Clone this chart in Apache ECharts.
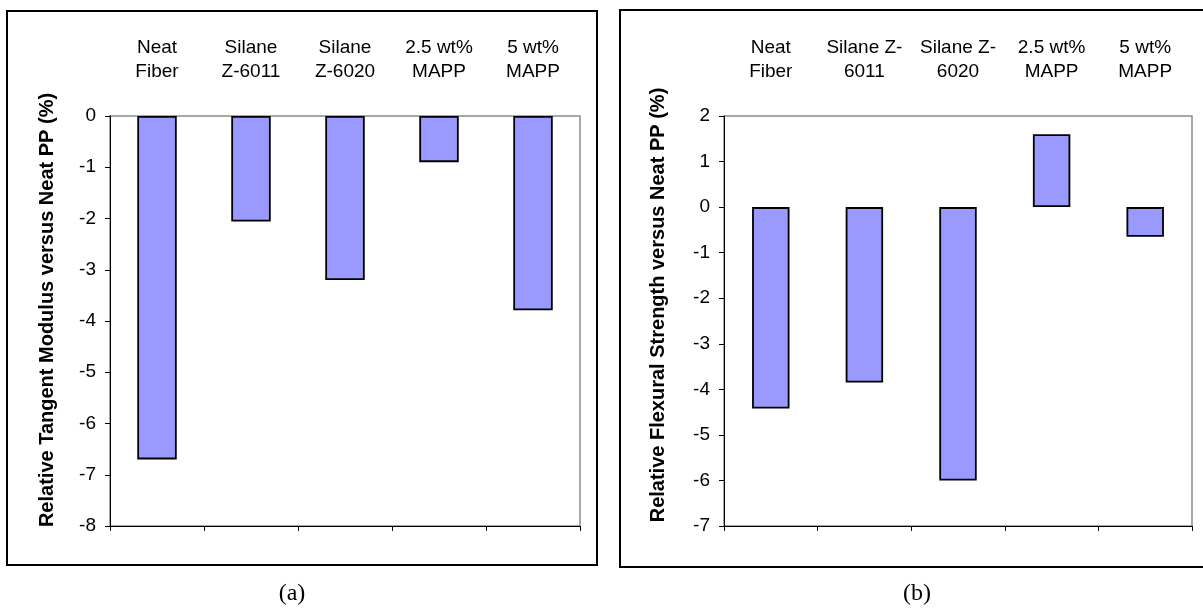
<!DOCTYPE html>
<html>
<head>
<meta charset="utf-8">
<script src="https://cdn.jsdelivr.net/npm/echarts@6/dist/echarts.min.js"></script>
<style>
html,body{margin:0;padding:0;background:#fff;}
#c{width:1203px;height:612px;}
</style>
</head>
<body>
<div id="c"></div>
<script>
// ---- data ----
const categoriesA = ['Neat\nFiber', 'Silane\nZ-6011', 'Silane\nZ-6020', '2.5 wt%\nMAPP', '5 wt%\nMAPP'];
const categoriesB = ['Neat\nFiber', 'Silane Z-\n6011', 'Silane Z-\n6020', '2.5 wt%\nMAPP', '5 wt%\nMAPP'];
const modulusValues = [-6.7, -2.06, -3.2, -0.9, -3.79];
const strengthValues = [-4.42, -3.85, -6.0, 1.6, -0.65];
const titleA = 'Relative Tangent Modulus versus Neat PP (%)';
const titleB = 'Relative Flexural Strength versus Neat PP (%)';
const captionA = '(a)';
const captionB = '(b)';

const FONT = '"Liberation Sans", Arial, sans-serif';
const chart = echarts.init(document.getElementById('c'), null, {renderer: 'canvas'});

function labelAxis(gridIndex, cats) {
  return {
    type: 'category', gridIndex: gridIndex, data: cats, position: 'top',
    axisLine: {show: false}, axisTick: {show: false}, splitLine: {show: false},
    axisLabel: {color: '#000', fontFamily: FONT, fontSize: 19, lineHeight: 24, margin: 32, interval: 0}
  };
}
function lineAxis(gridIndex, cats) {
  return {
    type: 'category', gridIndex: gridIndex, data: cats, position: 'bottom',
    axisLine: {show: true, onZero: true, lineStyle: {color: '#000', width: 1}},
    axisTick: {show: true, inside: false, length: 5, lineStyle: {color: '#000'}},
    axisLabel: {show: false}, splitLine: {show: false}
  };
}
function valAxis(gridIndex, min, max) {
  return {
    type: 'value', gridIndex: gridIndex, min: min, max: max, interval: 1,
    axisLine: {show: true, lineStyle: {color: '#000', width: 1}},
    axisTick: {show: true, length: 5, lineStyle: {color: '#000'}},
    axisLabel: {color: '#000', fontFamily: FONT, fontSize: 19, margin: 14},
    splitLine: {show: false}
  };
}
const barStyle = {color: '#9999FF', borderColor: '#000', borderWidth: 1.8};

chart.setOption({
  animation: false,
  backgroundColor: '#fff',
  grid: [
    {left: 110, top: 116, width: 470, height: 410, show: true, borderColor: '#8c8c8c', borderWidth: 1.5, backgroundColor: 'transparent'},
    {left: 724, top: 116, width: 468, height: 410, show: true, borderColor: '#8c8c8c', borderWidth: 1.5, backgroundColor: 'transparent'}
  ],
  xAxis: [
    labelAxis(0, categoriesA), lineAxis(0, categoriesA),
    labelAxis(1, categoriesB), lineAxis(1, categoriesB)
  ],
  yAxis: [valAxis(0, -8, 0), valAxis(1, -7, 2)],
  series: [
    {type: 'bar', xAxisIndex: 1, yAxisIndex: 0, data: modulusValues, barWidth: '42%', itemStyle: barStyle},
    {type: 'bar', xAxisIndex: 3, yAxisIndex: 1, data: strengthValues, barWidth: '40%', itemStyle: barStyle}
  ],
  graphic: [
    {type: 'rect', shape: {x: 7, y: 11, width: 590, height: 554}, style: {fill: 'none', stroke: '#000', lineWidth: 2}, z: 100},
    {type: 'rect', shape: {x: 620, y: 10, width: 600, height: 557}, style: {fill: 'none', stroke: '#000', lineWidth: 2}, z: 100},
    {type: 'text', x: 47, y: 310, rotation: Math.PI / 2,
     style: {text: titleA, font: 'bold 20px ' + FONT, fill: '#000', textAlign: 'center', textVerticalAlign: 'middle'}},
    {type: 'text', x: 658, y: 305, rotation: Math.PI / 2,
     style: {text: titleB, font: 'bold 20px ' + FONT, fill: '#000', textAlign: 'center', textVerticalAlign: 'middle'}},
    {type: 'text', x: 292, y: 594,
     style: {text: captionA, font: '24px "Liberation Serif", "Times New Roman", serif', fill: '#000', textAlign: 'center', textVerticalAlign: 'middle'}},
    {type: 'text', x: 917, y: 594,
     style: {text: captionB, font: '24px "Liberation Serif", "Times New Roman", serif', fill: '#000', textAlign: 'center', textVerticalAlign: 'middle'}}
  ]
});
</script>
</body>
</html>
